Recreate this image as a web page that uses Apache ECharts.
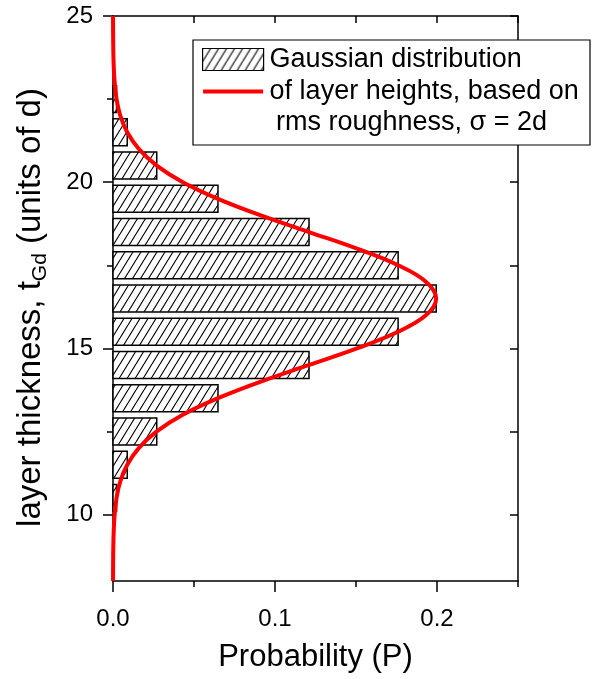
<!DOCTYPE html>
<html>
<head>
<meta charset="utf-8">
<script src="https://cdn.jsdelivr.net/npm/echarts@6/dist/echarts.min.js"></script>
<style>
html,body{margin:0;padding:0;background:#fff;}
#chart{width:593px;height:679px;}
</style>
</head>
<body>
<div id="chart"></div>
<script>
// ---- data ----
var barThickness = [10.5, 11.5, 12.5, 13.5, 14.5, 15.5, 16.5, 17.5, 18.5, 19.5, 20.5, 21.5, 22.5];
var barProb      = [0.0022, 0.0088, 0.027, 0.0648, 0.121, 0.176, 0.1995, 0.176, 0.121, 0.0648, 0.027, 0.0088, 0.0022];

var curveThickness = [8, 8.5, 9, 9.5, 10, 10.5, 11, 11.5, 12, 12.5, 13, 13.5, 14, 14.5, 15, 15.5, 16, 16.5,
                      17, 17.5, 18, 18.5, 19, 19.5, 20, 20.5, 21, 21.5, 22, 22.5, 23, 23.5, 24, 24.5, 25];
var curveProb = [0.00002, 0.00007, 0.00018, 0.00044, 0.00102, 0.0022, 0.0045, 0.0088, 0.0159, 0.027, 0.0431,
                 0.0648, 0.0913, 0.121, 0.1506, 0.176, 0.1933, 0.1995, 0.1933, 0.176, 0.1506, 0.121, 0.0913,
                 0.0648, 0.0431, 0.027, 0.0159, 0.0088, 0.0045, 0.0022, 0.00102, 0.00044, 0.00018, 0.00007, 0.00002];

var xTickLabels = [0, 0.1, 0.2];
var xMinorTicks = [0.05, 0.15, 0.25];
var xTopTicks = [0.05, 0.1, 0.15, 0.2, 0.25];
var yTickLabels = [10, 15, 20, 25];
var yMinorTicks = [12.5, 17.5, 22.5];
var yRightTicks = [10, 12.5, 15, 17.5, 20, 22.5, 25];

var barName = 'Gaussian distribution';
var lineName = 'of layer heights, based on';
var legendLine3 = 'rms roughness, \u03c3 = 2d';

// ---- hatch pattern ----
var pc = document.createElement('canvas');
pc.width = 8; pc.height = 13;
var g = pc.getContext('2d');
g.fillStyle = '#fff'; g.fillRect(0, 0, 8, 13);
g.strokeStyle = '#000'; g.lineWidth = 1.15;
[-8, 0, 8].forEach(function (o) {
  g.beginPath(); g.moveTo(o, 13); g.lineTo(o + 8, 0); g.stroke();
});
var hatch = { type: 'pattern', image: pc, repeat: 'repeat' };

var FONT = "'Liberation Sans', Arial, sans-serif";

var barData = barThickness.map(function (t, i) { return [barProb[i], t]; });
var curveData = curveThickness.map(function (t, i) { return [curveProb[i], t]; });

var chart = echarts.init(document.getElementById('chart'), null, { renderer: 'canvas' });

function axisBase(extra) {
  return Object.assign({
    type: 'value',
    splitLine: { show: false },
    axisLine: { show: false, onZero: false, lineStyle: { color: '#000', width: 1.5 } },
    axisLabel: { show: false },
    axisTick: { show: false }
  }, extra);
}

var option = {
  backgroundColor: '#fff',
  animation: false,
  textStyle: { fontFamily: FONT },
  grid: { left: 113, right: 75, top: 16, bottom: 98, containLabel: false },
  xAxis: [
    axisBase({
      position: 'bottom', min: 0, max: 0.25,
      axisLine: { show: true, onZero: false, lineStyle: { color: '#000', width: 1.5 } },
      axisTick: { show: true, inside: false, length: 11, customValues: xTickLabels, lineStyle: { color: '#000', width: 1.5 } },
      axisLabel: { show: true, customValues: xTickLabels, margin: 26, fontSize: 24, color: '#000', fontFamily: FONT,
        formatter: function (v) { return v.toFixed(1); } },
      name: 'Probability (P)', nameLocation: 'middle', nameGap: 61,
      nameTextStyle: { fontSize: 31, color: '#000', fontFamily: FONT }
    }),
    axisBase({
      position: 'bottom', min: 0, max: 0.25,
      axisTick: { show: true, inside: false, length: 6, customValues: xMinorTicks, lineStyle: { color: '#000', width: 1.5 } }
    }),
    axisBase({
      position: 'top', min: 0, max: 0.25,
      axisLine: { show: true, onZero: false, lineStyle: { color: '#000', width: 1.5 } },
      axisTick: { show: true, inside: true, length: 7, customValues: xTopTicks, lineStyle: { color: '#000', width: 1.5 } }
    })
  ],
  yAxis: [
    axisBase({
      position: 'left', min: 8, max: 25,
      axisLine: { show: true, onZero: false, lineStyle: { color: '#000', width: 1.5 } },
      axisTick: { show: true, inside: false, length: 10, customValues: yTickLabels, lineStyle: { color: '#000', width: 1.5 } },
      axisLabel: { show: true, customValues: yTickLabels, margin: 20, fontSize: 24, color: '#000', fontFamily: FONT },
      name: '{n|layer thickness, t}{s|Gd}{n| (units of d)}',
      nameLocation: 'middle', nameGap: 62,
      nameTextStyle: {
        color: '#000', fontFamily: FONT, padding: [0, 18, 0, 0],
        rich: {
          n: { fontSize: 33, color: '#000', fontFamily: FONT, lineHeight: 40, verticalAlign: 'middle' },
          s: { fontSize: 21, color: '#000', fontFamily: FONT, lineHeight: 40, verticalAlign: 'middle', padding: [18, 0, 0, 0] }
        }
      }
    }),
    axisBase({
      position: 'left', min: 8, max: 25,
      axisTick: { show: true, inside: false, length: 6, customValues: yMinorTicks, lineStyle: { color: '#000', width: 1.5 } }
    }),
    axisBase({
      position: 'right', min: 8, max: 25,
      axisLine: { show: true, onZero: false, lineStyle: { color: '#000', width: 1.5 } },
      axisTick: { show: true, inside: true, length: 8, customValues: yRightTicks, lineStyle: { color: '#000', width: 1.5 } }
    })
  ],
  legend: {
    orient: 'vertical', left: 202, top: 46, padding: 0,
    itemWidth: 61, itemHeight: 22, itemGap: 5,
    textStyle: { fontSize: 27, color: '#000', fontFamily: FONT, padding: [0, 0, 0, 1] },
    data: [
      { name: barName, icon: 'rect', itemStyle: { color: hatch, borderColor: '#000', borderWidth: 1.2 } },
      { name: lineName,
        icon: 'path://M0,0L0,0.01L0.01,0.01Z M0,9L60,9L60,13L0,13Z M0,22L0,21.99L0.01,21.99Z',
        itemStyle: { color: '#ff0000', borderWidth: 0 } }
    ],
    z: 10
  },
  graphic: [
    { type: 'rect', z: 5, shape: { x: 193, y: 40, width: 397, height: 105 },
      style: { fill: '#fff', stroke: '#000', lineWidth: 1.2 } },
    { type: 'text', z: 11, x: 276, y: 123,
      style: { text: legendLine3, font: '27px ' + FONT, fill: '#000', textVerticalAlign: 'middle' } }
  ],
  series: [
    {
      type: 'custom', name: barName, xAxisIndex: 0, yAxisIndex: 0,
      itemStyle: { color: hatch, borderColor: '#000', borderWidth: 1.5 },
      renderItem: function (params, api) {
        var p = api.value(0), t = api.value(1);
        var a = api.coord([0, t + 0.405]);
        var b = api.coord([p, t - 0.405]);
        return {
          type: 'rect',
          shape: { x: a[0], y: a[1], width: b[0] - a[0], height: b[1] - a[1] },
          style: { fill: hatch, stroke: '#000', lineWidth: 1.5 }
        };
      },
      data: barData,
      z: 2
    },
    {
      type: 'line', name: lineName, xAxisIndex: 0, yAxisIndex: 0,
      data: curveData, smooth: 0.4, symbol: 'none', showSymbol: false,
      lineStyle: { color: '#ff0000', width: 4 }, itemStyle: { color: '#ff0000' },
      clip: false,
      z: 3
    }
  ]
};
chart.setOption(option);
</script>
</body>
</html>
